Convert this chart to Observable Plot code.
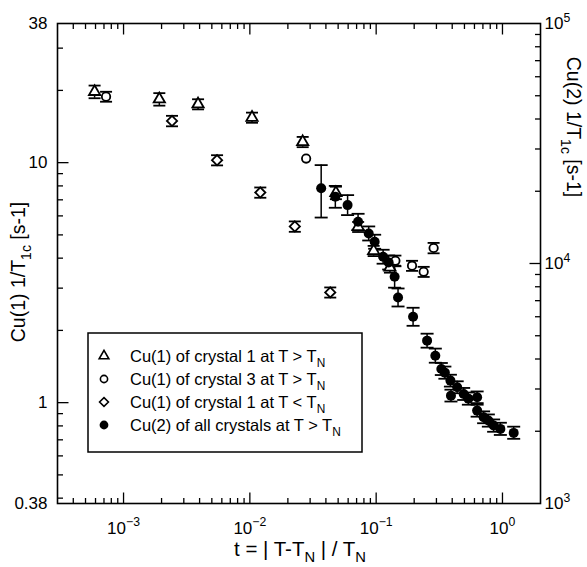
<!DOCTYPE html>
<html><head><meta charset="utf-8">
<script src="https://cdn.jsdelivr.net/npm/d3@7"></script>
<script src="https://cdn.jsdelivr.net/npm/@observablehq/plot@0.6"></script>
<style>
body{margin:0;background:#fff;}
#wrap{width:587px;height:567px;}
</style></head><body><div id="wrap"></div>
<script>
// Cu(1) of crystal 1 at T > TN (triangles)
const triT = [5.9e-4, 1.92e-3, 3.89e-3, 0.0104, 0.0262, 0.048, 0.072, 0.0955, 0.1285];
const triV = [19.75, 18.38, 17.52, 15.41, 12.2, 7.49, 5.40, 4.29, 3.66];
const triE = [1.2, 1.1, 0.85, 0.75, 0.6, 0.45, 0.26, 0.21, 0.18];
// Cu(1) of crystal 3 at T > TN (circles)
const cirT = [7.27e-4, 0.0279, 0.142, 0.1923, 0.2377, 0.285];
const cirV = [18.84, 10.4, 3.90, 3.72, 3.51, 4.41];
const cirE = [0.9, 0, 0.2, 0.18, 0.17, 0.22];
// Cu(1) of crystal 1 at T < TN (diamonds)
const diaT = [2.42e-3, 5.5e-3, 0.0121, 0.0227, 0.0433];
const diaV = [14.92, 10.24, 7.51, 5.42, 2.88];
const diaE = [0.75, 0.5, 0.37, 0.27, 0.14];
// Cu(2) of all crystals at T > TN (filled circles, right axis units)
const cu2T  = [0.0367, 0.0475, 0.0594, 0.0719, 0.0873, 0.0973, 0.1135, 0.1256, 0.140, 0.149, 0.196, 0.253, 0.294, 0.328, 0.35, 0.387, 0.391, 0.438, 0.493, 0.537, 0.630, 0.630, 0.709, 0.773, 0.851, 0.962, 1.227];
const cu2V  = [20600, 18960, 17510, 14920, 13340, 12320, 10670, 10100, 8810, 7220, 6000, 4771, 4130, 3636, 3509, 3251, 2815, 3049, 2861, 2735, 2770, 2438, 2287, 2216, 2112, 2046, 1969];
const cu2Lo = [15540, 17070, 15910, 13820, 12470, 11520, 9980, 9440, 7930, 6620, 5500, 4460, 3860, 3430, 3310, 3070, 2660, 2880, 2700, 2580, 2620, 2300, 2160, 2090, 1990, 1930, 1860];
const cu2Hi = [25700, 21060, 19270, 16110, 14270, 13180, 11410, 10800, 9790, 7870, 6540, 5100, 4420, 3850, 3720, 3440, 2980, 3230, 3030, 2900, 2930, 2580, 2420, 2350, 2240, 2170, 2090];

const xMajor = [1e-3, 1e-2, 1e-1, 1];
const yLeftTicks = [0.38, 1, 10, 38];
const yRightTicks = [1e3, 1e4, 1e5];
const legendLabels = [
  [["Cu(1) of crystal 1 at T > T"], ["N", "sub"]],
  [["Cu(1) of crystal 3 at T > T"], ["N", "sub"]],
  [["Cu(1) of crystal 1 at T < T"], ["N", "sub"]],
  [["Cu(2) of all crystals at T > T"], ["N", "sub"]]
];

const K = 1e5 / 38; // right axis / left axis
const FONT = "'Liberation Sans', Arial, Helvetica, sans-serif";

const rows = (t, v, e) => t.map((x, i) => ({t: x, v: v[i], lo: v[i] - e[i], hi: v[i] + e[i], e: e[i]}));
const tri = rows(triT, triV, triE);
const cir = rows(cirT, cirV, cirE);
const dia = rows(diaT, diaV, diaE);
const cu2 = cu2T.map((x, i) => ({t: x, v: cu2V[i] / K, lo: cu2Lo[i] / K, hi: cu2Hi[i] / K}));
const openErr = [...tri, ...cir, ...dia].filter(d => d.e > 0);

// minor tick positions
const minors = (lo, hi) => {
  const out = [];
  for (let e = -5; e <= 6; e++) for (let k = 2; k <= 9; k++) {
    const v = k * Math.pow(10, e);
    if (v > lo * 1.0001 && v < hi * 0.9999) out.push(v);
  }
  return out;
};
const xMinor = minors(3e-4, 2);
const yLeftMinor = minors(0.38, 38);
const yRightMinor = minors(1e3, 1e5).map(v => v / K);

const seg = (dx, dy) => ({draw(ctx) { ctx.moveTo(0, 0); ctx.lineTo(dx, dy); }});
const cap = {draw(ctx, size) { const w = Math.sqrt(size / Math.PI); ctx.moveTo(-w, 0); ctx.lineTo(w, 0); }};
const MAJ = 11, MIN = 5.5;

const tickMarks = [
  Plot.dot(xMajor, {x: d => d, frameAnchor: "bottom", symbol: seg(0, -MAJ), stroke: "black", strokeWidth: 1.3, fill: "none"}),
  Plot.dot(xMinor, {x: d => d, frameAnchor: "bottom", symbol: seg(0, -MIN), stroke: "black", strokeWidth: 1.3, fill: "none"}),
  Plot.dot(xMajor, {x: d => d, frameAnchor: "top", symbol: seg(0, MAJ), stroke: "black", strokeWidth: 1.3, fill: "none"}),
  Plot.dot(xMinor, {x: d => d, frameAnchor: "top", symbol: seg(0, MIN), stroke: "black", strokeWidth: 1.3, fill: "none"}),
  Plot.dot([1, 10], {y: d => d, frameAnchor: "left", symbol: seg(MAJ, 0), stroke: "black", strokeWidth: 1.3, fill: "none"}),
  Plot.dot(yLeftMinor, {y: d => d, frameAnchor: "left", symbol: seg(MIN, 0), stroke: "black", strokeWidth: 1.3, fill: "none"}),
  Plot.dot([1e4 / K], {y: d => d, frameAnchor: "right", symbol: seg(-MAJ, 0), stroke: "black", strokeWidth: 1.3, fill: "none"}),
  Plot.dot(yRightMinor, {y: d => d, frameAnchor: "right", symbol: seg(-MIN, 0), stroke: "black", strokeWidth: 1.3, fill: "none"})
];

const chart = Plot.plot({
  width: 587,
  height: 567,
  marginLeft: 57,
  marginRight: 47,
  marginTop: 23,
  marginBottom: 64,
  style: {fontFamily: FONT, fontSize: "17px", background: "white", overflow: "visible"},
  x: {type: "log", domain: [3e-4, 2]},
  y: {type: "log", domain: [0.38, 38]},
  marks: [
    Plot.axisX({ticks: xMajor, tickSize: 0, tickPadding: 18, tickFormat: d => "10^" + Math.round(Math.log10(d)), label: null, fontSize: 17}),
    Plot.axisY({anchor: "left", ticks: yLeftTicks, tickSize: 0, tickPadding: 10, tickFormat: d => String(d), label: null, fontSize: 17}),
    Plot.axisY({anchor: "right", ticks: yRightTicks.map(v => v / K), tickSize: 0, tickPadding: 4, tickFormat: d => "10^" + Math.round(Math.log10(d * K)), label: null, fontSize: 17}),
    ...tickMarks,
    // error bars
    Plot.ruleX(cu2, {x: "t", y1: "lo", y2: "hi", stroke: "black", strokeWidth: 1.5}),
    Plot.dot(cu2, {x: "t", y: "lo", symbol: cap, r: 6.5, stroke: "black", strokeWidth: 1.8, fill: "none"}),
    Plot.dot(cu2, {x: "t", y: "hi", symbol: cap, r: 6.5, stroke: "black", strokeWidth: 1.8, fill: "none"}),
    Plot.ruleX(openErr, {x: "t", y1: "lo", y2: "hi", stroke: "black", strokeWidth: 1.5}),
    Plot.dot(openErr, {x: "t", y: "lo", symbol: cap, r: 6, stroke: "black", strokeWidth: 1.8, fill: "none"}),
    Plot.dot(openErr, {x: "t", y: "hi", symbol: cap, r: 6, stroke: "black", strokeWidth: 1.8, fill: "none"}),
    // symbols
    Plot.dot(tri, {x: "t", y: "v", symbol: "triangle", r: 4.2, stroke: "black", strokeWidth: 1.8, fill: "white"}),
    Plot.dot(cir, {x: "t", y: "v", symbol: "circle", r: 4.2, stroke: "black", strokeWidth: 1.8, fill: "white"}),
    Plot.dot(dia, {x: "t", y: "v", symbol: "diamond2", r: 4.6, stroke: "black", strokeWidth: 1.8, fill: "white"}),
    Plot.dot(cu2, {x: "t", y: "v", symbol: "circle", r: 5, fill: "black", stroke: "none"}),
    Plot.frame({stroke: "black", strokeWidth: 1.6})
  ]
});

const svg = d3.select(chart);

function rich(sel, parts, fs) {
  let shift = 0;
  parts.forEach(([s, kind]) => {
    const target = kind === "sub" ? fs * 0.3 : kind === "sup" ? -fs * 0.42 : 0;
    const ts = sel.append("tspan").text(s);
    if (target - shift !== 0) ts.attr("dy", target - shift);
    if (kind) ts.attr("font-size", fs * 0.72);
    shift = target;
  });
}

// superscript powers in tick labels
svg.selectAll("text").each(function() {
  const s = this.textContent;
  const m = /^10\^(-?\d+)$/.exec(s);
  if (m) {
    const el = d3.select(this);
    el.text(null);
    rich(el, [["10"], [m[1].replace("-", "\u2212"), "sup"]], 17);
  }
});

// axis titles
const tx = svg.append("text").attr("x", 300).attr("y", 556).attr("text-anchor", "middle")
  .attr("font-family", FONT).attr("font-size", 20.5).attr("fill", "black");
rich(tx, [["t = | T-T"], ["N", "sub"], [" | / T"], ["N", "sub"]], 20.5);

const tl = svg.append("text").attr("transform", "translate(25,272) rotate(-90)").attr("text-anchor", "middle")
  .attr("font-family", FONT).attr("font-size", 19.5).attr("fill", "black");
rich(tl, [["Cu(1) 1/T"], ["1c", "sub"], [" [s-1]"]], 19.5);

const tr = svg.append("text").attr("transform", "translate(567,127) rotate(90)").attr("text-anchor", "middle")
  .attr("font-family", FONT).attr("font-size", 19.5).attr("fill", "black");
rich(tr, [["Cu(2) 1/T"], ["1c", "sub"], [" [s-1]"]], 19.5);

// legend
const lg = svg.append("g");
lg.append("rect").attr("x", 88).attr("y", 333).attr("width", 274).attr("height", 119)
  .attr("fill", "white").attr("stroke", "black").attr("stroke-width", 1.5);
const legSyms = [
  {type: d3.symbolTriangle, fill: "white", r: 3.6},
  {type: d3.symbolCircle, fill: "white", r: 3.6},
  {type: d3.symbolDiamond2, fill: "white", r: 4},
  {type: d3.symbolCircle, fill: "black", r: 4.4}
];
legendLabels.forEach((parts, i) => {
  const y = 356 + i * 23;
  const s = legSyms[i];
  lg.append("path").attr("d", d3.symbol(s.type, s.r * s.r * Math.PI)())
    .attr("transform", `translate(104,${y})`).attr("fill", s.fill)
    .attr("stroke", s.fill === "black" ? "none" : "black").attr("stroke-width", 1.6);
  const t = lg.append("text").attr("x", 130).attr("y", y + 6).attr("text-anchor", "start")
    .attr("font-family", FONT).attr("font-size", 16.5).attr("fill", "black");
  rich(t, parts, 16.5);
});

document.getElementById("wrap").appendChild(chart);
</script>
</body></html>
